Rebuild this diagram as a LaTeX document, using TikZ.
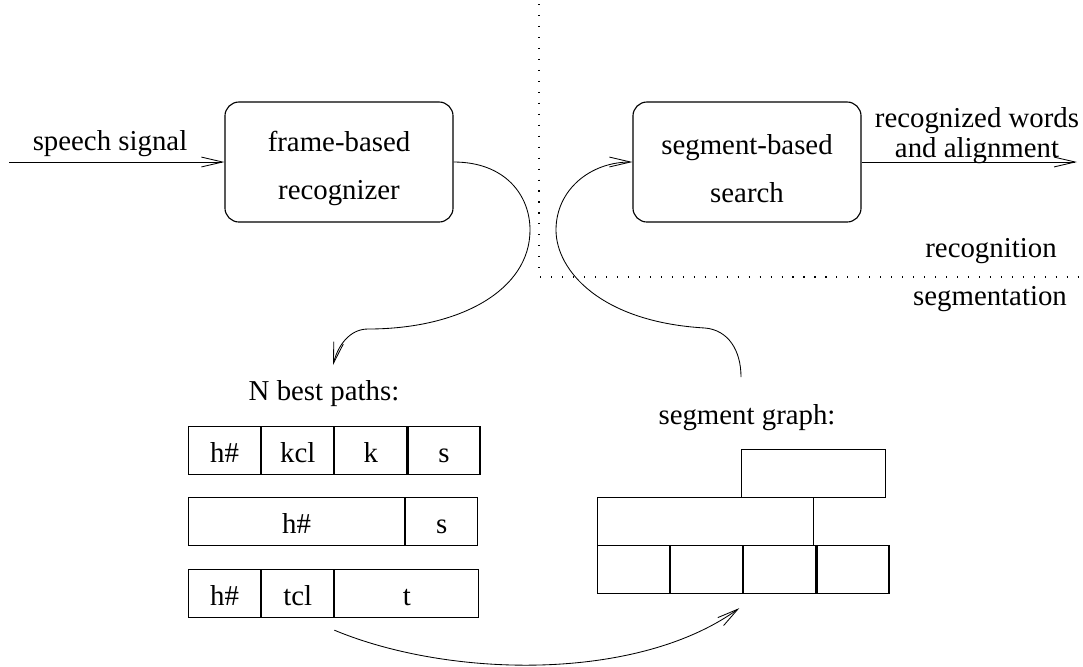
\documentclass[tikz,border=0pt]{standalone}
\usepackage{fontspec}
\setmainfont{Liberation Serif}
\usetikzlibrary{arrows.meta, calc, positioning}

\begin{document}
\begin{tikzpicture}[x=0.025cm, y=-0.025cm,
    every node/.style={font=\fontsize{20.5}{24}\selectfont},
    proc/.style={draw, line width=0.8pt, rounded corners=10pt,
      minimum width=5.7cm, minimum height=3cm, align=center,
      font=\fontsize{20.5}{34}\selectfont},
    cell/.style={draw, line width=0.8pt, anchor=north west, inner sep=0pt,
      minimum width=1.8cm, minimum height=1.2cm,
      text height=17pt, text depth=0pt},
    flow/.style={line width=0.6pt, -{Straight Barb[length=15pt, width=7pt]}},
    sep/.style={line width=0.8pt, dash pattern=on 0.8pt off 7pt}]
    \useasboundingbox (0,0) rectangle (1083,666);

    \node[proc] (frame) at (339,162) {\rule{0pt}{24pt}frame-based\\recognizer};
    \node[proc] (search) at (747,162) {\rule{0pt}{24pt}segment-based\\search};
    \coordinate (sigin) at (9,162);
    \coordinate (wordsout) at (1077,162);
    \node[anchor=base] (signal) at (110,150) {speech signal};
    \node[align=center, font=\fontsize{20.5}{21.3}\selectfont] (words) at (977,136)
      {recognized words\\and alignment};
    \node[anchor=base] (recog) at (991,257) {recognition};
    \node[anchor=base] (segm) at (990,305) {segmentation};
    \coordinate (corner) at (539,277);
    \draw[sep] (539,4) -- (corner) -- (1083,277);

    \node[anchor=base] (nbest) at (324,400) {N best paths:};
    \node[cell] (h1) at (188,426) {h\#};
    \node[cell, right=0pt of h1] (kcl) {kcl};
    \node[cell, right=0pt of kcl] (k) {k};
    \node[cell, right=0pt of k] (s1) {s};
    \node[cell, minimum width=5.4cm] (h2) at (188,497) {h\#};
    \node[cell, right=0pt of h2] (s2) {s};
    \node[cell] (h3) at (188,569) {h\#};
    \node[cell, right=0pt of h3] (tcl) {tcl};
    \node[cell, right=0pt of tcl, minimum width=3.6cm] (t) {t};

    \node[anchor=base] (graph) at (747,424) {segment graph:};
    \node[cell, minimum width=3.6cm] (gt) at (741,449) {};
    \node[cell, minimum width=5.4cm] (gm) at (597,497) {};
    \node[cell] (g1) at (597,545) {};
    \node[cell, right=0pt of g1] (g2) {};
    \node[cell, right=0pt of g2] (g3) {};
    \node[cell, right=0pt of g3] (g4) {};

    \coordinate (pathsin) at (333,365);
    \coordinate (graphout) at (741,377);

    \draw[flow] (sigin) -- (frame);
    \draw[flow] (search) -- (wordsout);
    \draw[flow] (frame.east) .. controls (505,162) and (530,195) .. (530,230)
      .. controls (530,290) and (460,329) .. (368,329)
      .. controls (350,329) and (338,345) .. (pathsin);
    \draw[flow] (graphout) .. controls (741,350) and (728,330) .. (705,328)
      .. controls (600,322) and (556,270) .. (556,230)
      .. controls (556,190) and (590,162) .. (search.west);
    \draw[flow] ($(tcl.south east)+(0,12)$) .. controls (449,678) and (637,682)
      .. ($(g3.south west)+(-4,14)$);
\end{tikzpicture}
\end{document}
